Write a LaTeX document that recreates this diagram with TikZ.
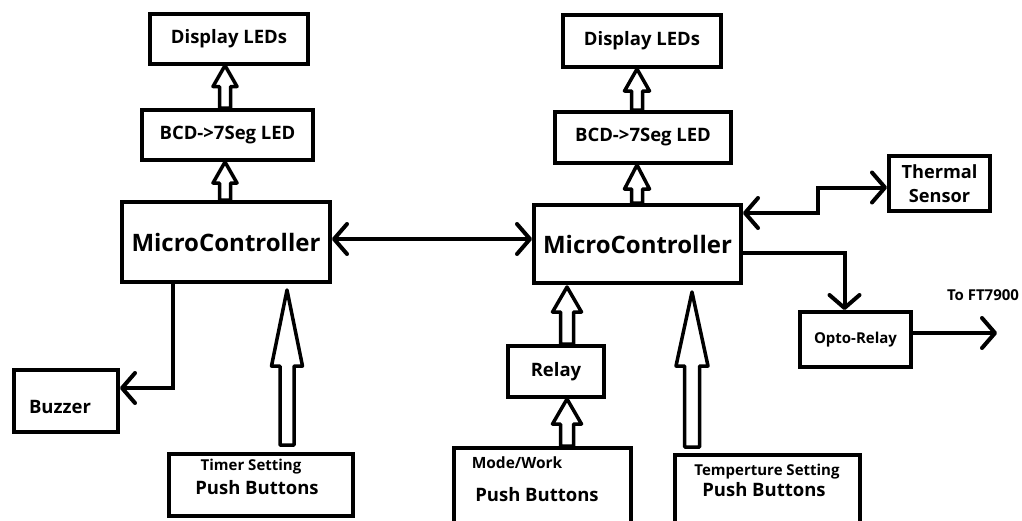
\documentclass[tikz,border=0pt]{standalone}
\usepackage{fontspec}
\setmainfont{Open Sans}
\usetikzlibrary{arrows.meta,calc}

% vertical hollow block arrow: #1 base point (gives x), #2 tip point (gives y),
% #3 shaft half-width, #4 head half-width, #5 head length
\newcommand\hollowup[5]{%
  \draw[hollow] let \p1=#1, \p2=#2 in
    (\x1-#3,\y1) -- (\x1-#3,\y2-#5) -- (\x1-#4,\y2-#5) -- (\x1,\y2)
    -- (\x1+#4,\y2-#5) -- (\x1+#3,\y2-#5) -- (\x1+#3,\y1) -- cycle;}

\tikzset{
  box/.style={draw, line width=4pt, fill=white, inner sep=0pt,
    font=\bfseries\fontsize{18.5}{22}\selectfont},
  bigtext/.style={font=\bfseries\fontsize{24}{28}\selectfont},
  lbl/.style={inner sep=0pt, font=\bfseries\fontsize{15}{18}\selectfont},
  pbtext/.style={inner sep=0pt, font=\bfseries\fontsize{18.5}{22}\selectfont},
  conn/.style={line width=4pt},
  barb/.tip={Straight Barb[length=13pt,width=30pt,round]},
  onetip/.style={-barb},
  twotip/.style={barb-barb},
  hollow/.style={draw, line width=3.5pt, fill=white, line join=round},
}

\begin{document}
\begin{tikzpicture}[x=1pt,y=-1pt]
\useasboundingbox (0,0) rectangle (1022,520);
\fill[white] (0,0) rectangle (1022,520);

% left controller chain
\node[box, minimum width=158, minimum height=50] (disp1) at (229,38.5) {Display LEDs};
\node[box, minimum width=171, minimum height=50] (bcd1) at (227.5,135) {BCD->7Seg LED};
\node[box, bigtext, minimum width=208, minimum height=80] (mc1) at (226,242) {MicroController};
\node[box, minimum width=104, minimum height=62] (bz) at (66,401)
  {\raisebox{-6pt}[\height][\depth]{\hspace*{-12pt}Buzzer}};
\node[box, minimum width=184, minimum height=62] (pbT) at (261,485) {};
\node[lbl] (pbTa) at (251,467) {Timer Setting};
\node[pbtext] (pbTb) at (257,488) {Push Buttons};

% right controller chain
\node[box, minimum width=158, minimum height=52] (disp2) at (642,41) {Display LEDs};
\node[box, minimum width=176, minimum height=51] (bcd2) at (643,137.5) {BCD->7Seg LED};
\node[box, bigtext, minimum width=207, minimum height=78] (mc2) at (637.5,244) {MicroController};
\node[box, minimum width=96, minimum height=51] (relay) at (556,371.5) {Relay};
\node[box, minimum width=177, minimum height=84] (pbM) at (542.5,490) {};
\node[lbl, font=\bfseries\fontsize{15.5}{18}\selectfont] (pbMa) at (517,463) {Mode/Work};
\node[pbtext] (pbMb) at (537,495) {Push Buttons};
\node[box, minimum width=185, minimum height=83] (pbC) at (767.5,496.5) {};
\node[lbl] (pbCa) at (767,472) {Temperture Setting};
\node[pbtext] (pbCb) at (764,490) {Push Buttons};
\node[box, align=center, minimum width=101, minimum height=55,
  font=\bfseries\fontsize{18.2}{24}\selectfont] (ts) at (939.5,183.5) {Thermal\\Sensor};
\node[box, minimum width=111, minimum height=55,
  font=\bfseries\fontsize{15}{18}\selectfont] (opto) at (855.5,339.5) {Opto-Relay};
\coordinate (ftend) at (997,333);
\node[lbl] (ft) at (983,295) {To FT7900};

% line connectors
\draw[conn, twotip] ([yshift=3pt]mc1.east) -- ([yshift=3pt]mc1.east -| mc2.west);
\draw[conn, onetip] ([xshift=-53pt]mc1.south) |- ([yshift=13pt]bz.east);
\draw[conn, twotip] ([yshift=31pt]mc2.east) -- ++(75,0) |- ([yshift=-4pt]ts.west);
\draw[conn, onetip] ([yshift=-9pt]mc2.east) -| ([xshift=-11pt]opto.north);
\draw[conn, onetip] (ftend -| opto.east) -- (ftend);

% hollow block arrows
\hollowup{([xshift=-2.5pt]bcd1.north)}{(disp1.south)}{5.5pt}{12pt}{21pt}
\hollowup{([xshift=-1pt]mc1.north)}{(bcd1.south)}{5.5pt}{12pt}{21pt}
\hollowup{([xshift=-6pt]bcd2.north)}{(disp2.south)}{5.5pt}{12.5pt}{22pt}
\hollowup{([xshift=-0.5pt]mc2.north)}{(bcd2.south)}{5.5pt}{12.5pt}{24pt}
\hollowup{([xshift=11pt]relay.north)}{([yshift=-2pt]mc2.south)}{6.5pt}{14.5pt}{25pt}
\hollowup{([xshift=24.5pt]pbM.north)}{([xshift=11pt]relay.south)}{6.5pt}{14.5pt}{25pt}
\hollowup{([xshift=26pt,yshift=7pt]pbT.north)}{([yshift=-6pt]mc1.south)}{7pt}{15.5pt}{76pt}
\hollowup{([xshift=-75.5pt,yshift=6pt]pbC.north)}{([yshift=-7pt]mc2.south)}{7.5pt}{16pt}{74pt}
\end{tikzpicture}
\end{document}
